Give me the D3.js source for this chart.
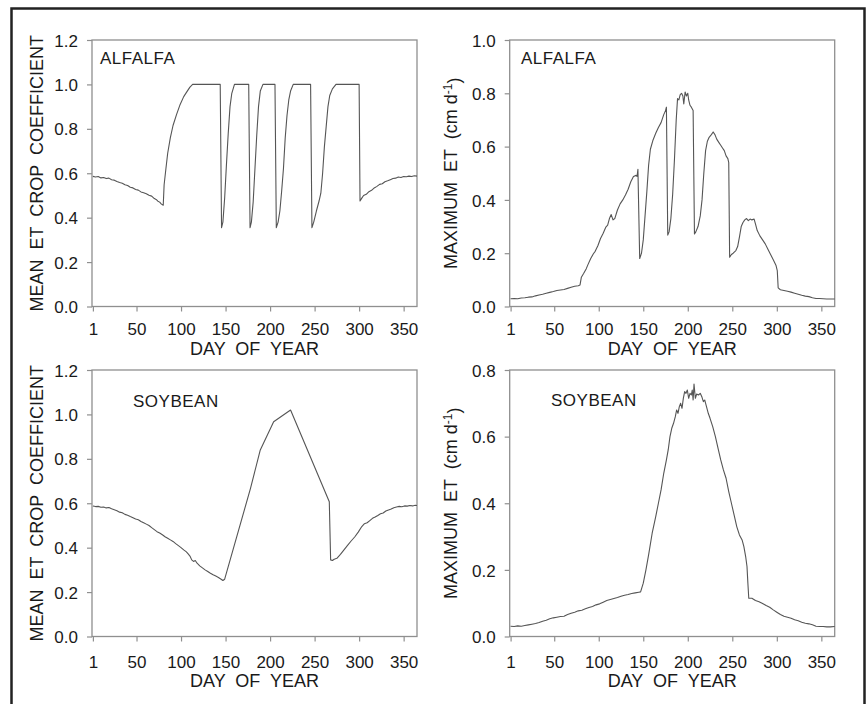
<!DOCTYPE html>
<html>
<head>
<meta charset="utf-8">
<script src="https://cdn.jsdelivr.net/npm/d3@7"></script>
<style>
  body { margin: 0; background: #fff; }
  svg text { font-family: 'Liberation Sans', Arial, sans-serif; fill: #1a1a1a; }
</style>
</head>
<body>
<svg id="chart"></svg>
<script>
// values: [day of year, value]
const dayTicks = [1, 50, 100, 150, 200, 250, 300, 350];
const kcTicks = [0, 0.2, 0.4, 0.6, 0.8, 1.0, 1.2];
const alfEtTicks = [0, 0.2, 0.4, 0.6, 0.8, 1.0];
const soyEtTicks = [0, 0.2, 0.4, 0.6, 0.8];

const alfalfaKc = [
  [1,0.586],[4,0.583],[7,0.585],[10,0.579],[13,0.581],[16,0.576],[19,0.578],[22,0.571],[25,0.569],
  [28,0.563],[31,0.558],[34,0.555],[37,0.548],[40,0.545],[43,0.537],[46,0.534],[49,0.527],[52,0.524],
  [55,0.516],[58,0.512],[61,0.508],[64,0.501],[67,0.497],[70,0.486],[72,0.482],[74,0.474],[76,0.47],
  [78,0.461],[80,0.456],[81,0.548],[83,0.62],[85,0.69],[88,0.76],[91,0.815],[95,0.865],[99,0.91],
  [103,0.945],[107,0.97],[110,0.988],[113,1.0],[144,1.0],[145.5,0.355],[147,0.38],[149,0.49],[151,0.64],
  [153,0.78],[155,0.9],[157,0.96],[160,1.0],[176,1.0],[177.5,0.355],[179,0.38],[181,0.47],[183,0.62],
  [185,0.77],[187,0.9],[189,0.97],[192,1.0],[205.5,1.0],[207,0.355],[209,0.38],[211,0.43],[213,0.52],
  [215,0.62],[217,0.76],[219,0.86],[221,0.93],[223,0.97],[226,1.0],[245.5,1.0],[247,0.355],[249,0.38],
  [252,0.43],[255,0.475],[257,0.51],[259,0.6],[261,0.72],[263,0.81],[265,0.9],[267,0.95],[270,0.98],
  [274,1.0],[300,1.0],[301,0.475],[303,0.488],[305,0.5],[308,0.505],[311,0.517],[314,0.523],[317,0.534],
  [320,0.541],[323,0.55],[326,0.553],[329,0.562],[332,0.566],[335,0.571],[338,0.576],[341,0.578],
  [344,0.583],[347,0.581],[350,0.585],[353,0.584],[356,0.587],[359,0.585],[362,0.589],[365,0.587]
];

const alfalfaEt = [
  [1,0.029],[5,0.03],[9,0.029],[13,0.032],[17,0.033],[21,0.035],[25,0.036],[29,0.04],[33,0.043],
  [37,0.046],[41,0.05],[45,0.053],[49,0.056],[53,0.06],[57,0.062],[61,0.064],[65,0.068],[69,0.072],
  [73,0.076],[77,0.078],[79,0.081],[80.5,0.11],[83,0.124],[86,0.142],[88,0.158],[91,0.18],[94,0.198],
  [96,0.207],[99,0.228],[102,0.255],[105,0.275],[108,0.298],[110,0.305],[112,0.33],[114,0.345],
  [116,0.325],[118,0.33],[121,0.362],[124,0.385],[127,0.4],[130,0.418],[133,0.44],[136,0.468],
  [139,0.488],[142,0.492],[143,0.488],[144,0.515],[146,0.18],[148,0.2],[150,0.25],[152,0.34],[154,0.43],
  [156,0.53],[158,0.59],[161,0.625],[164,0.65],[167,0.672],[170,0.69],[173,0.72],[175,0.735],[176,0.748],
  [177.5,0.268],[179,0.28],[181,0.33],[183,0.42],[185,0.55],[187,0.7],[188.5,0.78],[190,0.775],
  [191.5,0.795],[193,0.8],[194.5,0.79],[195.5,0.76],[197,0.805],[198.5,0.79],[200,0.8],[201,0.775],
  [202.5,0.755],[204,0.748],[206,0.735],[207.5,0.272],[209,0.28],[211.5,0.3],[214,0.34],[216,0.4],
  [218,0.5],[220,0.585],[222,0.62],[224,0.635],[226.5,0.645],[228.5,0.655],[230.5,0.645],[232.5,0.628],
  [235,0.615],[237,0.605],[239,0.595],[241,0.585],[243,0.565],[245,0.555],[246,0.54],[247,0.185],
  [249,0.195],[251,0.2],[254,0.21],[256,0.225],[258,0.26],[260,0.3],[262,0.315],[264,0.325],[266,0.33],
  [268,0.322],[270,0.328],[272,0.325],[274.5,0.328],[276,0.31],[278,0.285],[281,0.265],[284,0.25],
  [287,0.235],[290,0.215],[293,0.195],[296,0.175],[299,0.155],[300.5,0.135],[301.5,0.07],[304,0.063],
  [308,0.06],[312,0.057],[316,0.054],[320,0.05],[324,0.046],[328,0.042],[332,0.039],[336,0.037],
  [340,0.033],[344,0.03],[348,0.03],[352,0.029],[356,0.028],[360,0.028],[365,0.028]
];

const soybeanKc = [
  [1,0.588],[4,0.585],[7,0.586],[10,0.582],[13,0.583],[16,0.579],[19,0.581],[22,0.575],[25,0.571],
  [28,0.566],[31,0.56],[34,0.557],[37,0.55],[40,0.546],[43,0.54],[46,0.535],[49,0.529],[52,0.526],
  [55,0.518],[58,0.512],[61,0.506],[64,0.5],[67,0.49],[70,0.481],[73,0.472],[76,0.466],[79,0.458],
  [82,0.449],[85,0.442],[88,0.435],[91,0.428],[94,0.418],[97,0.409],[100,0.4],[103,0.39],[106,0.381],
  [108,0.372],[110,0.362],[112,0.345],[114,0.338],[116,0.342],[118,0.33],[121,0.318],[124,0.309],
  [127,0.3],[130,0.293],[133,0.285],[136,0.278],[139,0.272],[142,0.266],[145,0.258],[147,0.252],
  [149,0.258],[178,0.667],[189,0.84],[204,0.967],[223,1.02],[266.5,0.607],[268,0.345],[270,0.342],
  [272,0.348],[275,0.352],[279,0.37],[283,0.39],[287,0.41],[291,0.43],[295,0.448],[299,0.47],
  [303,0.495],[306,0.508],[309,0.512],[312,0.522],[315,0.532],[318,0.538],[321,0.545],[324,0.553],
  [327,0.556],[330,0.565],[333,0.57],[336,0.574],[339,0.58],[342,0.583],[345,0.586],[348,0.584],
  [351,0.588],[354,0.587],[357,0.59],[360,0.588],[363,0.591],[365,0.59]
];

const soybeanEt = [
  [1,0.031],[5,0.03],[9,0.032],[13,0.031],[17,0.033],[21,0.035],[25,0.037],[29,0.039],[33,0.042],
  [37,0.046],[41,0.049],[45,0.053],[49,0.056],[53,0.058],[57,0.06],[61,0.061],[65,0.066],[69,0.07],
  [73,0.073],[77,0.077],[81,0.079],[85,0.083],[89,0.087],[93,0.09],[97,0.095],[101,0.098],[105,0.103],
  [109,0.108],[113,0.111],[117,0.114],[121,0.117],[125,0.121],[129,0.124],[133,0.126],[137,0.129],
  [141,0.131],[145,0.133],[147,0.134],[150,0.16],[153,0.2],[156,0.245],[160,0.31],[164,0.36],[167,0.4],
  [170,0.44],[173,0.49],[176,0.53],[178,0.56],[180,0.6],[182,0.625],[184,0.64],[186,0.66],[187.5,0.68],
  [189,0.67],[190.5,0.69],[192,0.7],[193.5,0.685],[195,0.715],[196.5,0.735],[198,0.73],[199.5,0.74],
  [201,0.715],[202.5,0.73],[204,0.725],[205,0.74],[206,0.71],[207,0.758],[208.5,0.715],[210,0.728],
  [212,0.725],[214,0.73],[216,0.718],[217.5,0.705],[219,0.71],[221,0.69],[223,0.67],[225,0.655],
  [228,0.63],[231,0.6],[234,0.565],[237,0.53],[240,0.5],[243,0.475],[246,0.435],[249,0.4],[252,0.365],
  [255,0.33],[258,0.305],[261,0.29],[263,0.27],[265,0.24],[266.5,0.21],[267.5,0.16],[268.5,0.115],
  [272,0.115],[276,0.108],[280,0.104],[284,0.099],[288,0.093],[292,0.088],[296,0.08],[300,0.073],
  [304,0.066],[308,0.061],[312,0.058],[316,0.055],[320,0.05],[324,0.047],[328,0.043],[332,0.04],
  [336,0.038],[340,0.035],[344,0.031],[348,0.03],[352,0.03],[356,0.029],[360,0.029],[365,0.03]
];

const width = 867;
const height = 704;

const svg = d3.select('#chart').attr('width', width).attr('height', height);

// outer frame (bottom runs off the picture)
svg.append('rect')
  .attr('x', 11.5).attr('y', 8.5)
  .attr('width', 853).attr('height', 720)
  .attr('fill', 'none')
  .attr('stroke', '#222')
  .attr('stroke-width', 2.5);

const panels = [
  { data: alfalfaKc, yMax: 1.2, ticks: kcTicks, left: 92, top: 40, label: 'ALFALFA', lx: 100, ly: 64,
    ytitle: 'kc', tx: 43, xlab: 335, xtitle: 355 },
  { data: alfalfaEt, yMax: 1.0, ticks: alfEtTicks, left: 509.7, top: 40, label: 'ALFALFA', lx: 521, ly: 64,
    ytitle: 'et', tx: 457, xlab: 335, xtitle: 355 },
  { data: soybeanKc, yMax: 1.2, ticks: kcTicks, left: 92, top: 370, label: 'SOYBEAN', lx: 133, ly: 407,
    ytitle: 'kc', tx: 43, xlab: 668, xtitle: 687 },
  { data: soybeanEt, yMax: 0.8, ticks: soyEtTicks, left: 509.7, top: 370, label: 'SOYBEAN', lx: 551, ly: 406,
    ytitle: 'et', tx: 457, xlab: 668, xtitle: 687 }
];

const plotW = 325;
const plotH = 266.5;

const drawPanel = (p) => {
  const x = d3.scaleLinear().domain([0, 365]).range([p.left, p.left + plotW]);
  const y = d3.scaleLinear().domain([0, p.yMax]).range([p.top + plotH, p.top]);

  svg.append('rect')
    .attr('x', p.left).attr('y', p.top)
    .attr('width', plotW).attr('height', plotH)
    .attr('fill', 'none')
    .attr('stroke', '#8f8f8f')
    .attr('stroke-width', 1.3);

  const xAxis = d3.axisBottom(x).tickValues(dayTicks).tickSize(5).tickSizeOuter(0).tickPadding(0);
  const gx = svg.append('g')
    .attr('transform', 'translate(0,' + (p.top + plotH) + ')')
    .call(xAxis);
  gx.select('.domain').remove();
  gx.selectAll('line').attr('stroke', '#8f8f8f').attr('stroke-width', 1.2);
  gx.selectAll('text')
    .attr('y', null).attr('dy', null)
    .attr('y', p.xlab - p.top - plotH)
    .style('font-size', '17px');

  const yAxis = d3.axisLeft(y).tickValues(p.ticks).tickSize(5).tickSizeOuter(0).tickPadding(9)
    .tickFormat((d) => d.toFixed(1));
  const gy = svg.append('g')
    .attr('transform', 'translate(' + p.left + ',0)')
    .call(yAxis);
  gy.select('.domain').remove();
  gy.selectAll('line').attr('stroke', '#8f8f8f').attr('stroke-width', 1.2);
  gy.selectAll('text').attr('dy', '0.36em').style('font-size', '17px');

  const line = d3.line()
    .x((d) => x(d[0]))
    .y((d) => y(d[1]));

  svg.append('path')
    .datum(p.data)
    .attr('d', line)
    .attr('fill', 'none')
    .attr('stroke', '#555')
    .attr('stroke-width', 1.1)
    .attr('stroke-linejoin', 'round');

  svg.append('text')
    .attr('x', p.lx).attr('y', p.ly)
    .attr('letter-spacing', '0.5px')
    .style('font-size', '17px')
    .text(p.label);

  svg.append('text')
    .attr('x', p.left + plotW / 2).attr('y', p.xtitle)
    .attr('text-anchor', 'middle')
    .style('font-size', '18px')
    .style('white-space', 'pre')
    .text('DAY  OF  YEAR');

  const cy = p.top + plotH / 2;
  const t = svg.append('text')
    .attr('transform', 'translate(' + p.tx + ',' + cy + ') rotate(-90)')
    .attr('text-anchor', 'middle')
    .style('font-size', '18px')
    .style('white-space', 'pre');
  if (p.ytitle === 'kc') {
    t.text('MEAN  ET  CROP  COEFFICIENT');
  } else {
    t.append('tspan').text('MAXIMUM  ET  (cm d');
    t.append('tspan').attr('dy', '-0.45em').style('font-size', '12px').text('-1');
    t.append('tspan').attr('dy', '0.45em').text(')');
  }
};

panels.forEach(drawPanel);
</script>
</body>
</html>
